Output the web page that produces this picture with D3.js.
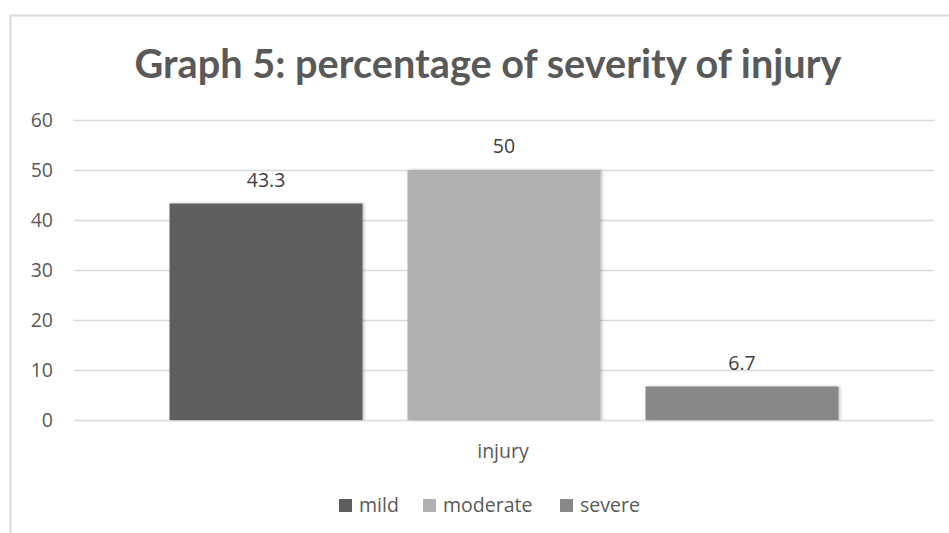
<!DOCTYPE html>
<html><head><meta charset="utf-8">
<script src="https://cdn.jsdelivr.net/npm/d3@7"></script>
<style>body{margin:0;background:#fff}svg{display:block}text{font-family:"Open Sans",sans-serif}</style>
</head><body>
<svg id="c" width="949" height="533"></svg>
<script>
const title = "Graph 5: percentage of severity of injury";
const categories = ["injury"];
const seriesNames = ["mild", "moderate", "severe"];
const seriesValues = [43.3, 50, 6.7];
const seriesColors = ["#5f5f5f", "#b0b0b0", "#888888"];
const yTicks = [0, 10, 20, 30, 40, 50, 60];

const svg = d3.select("#c");
const FS = "19.5px";
// frame (top & left border visible)
svg.append("path").attr("d", "M10.5,540 L10.5,15.5 L960,15.5").attr("fill","none").attr("stroke","#d9d9d9").attr("stroke-width",2);

const plot = {left: 74, right: 934, top: 120, bottom: 420};
const y = d3.scaleLinear().domain([0, 60]).range([plot.bottom, plot.top]);
const x0 = d3.scaleBand().domain(categories).range([plot.left, plot.right]).paddingInner(0).paddingOuter(0.1428);
const x1 = d3.scaleBand().domain(seriesNames).range([0, x0.bandwidth()]).paddingInner(0.189);

const defs = svg.append("defs");
const f = defs.append("filter").attr("id","sh").attr("x","-10%").attr("y","-10%").attr("width","130%").attr("height","130%");
f.append("feDropShadow").attr("dx",1.5).attr("dy",0).attr("stdDeviation",1.5).attr("flood-color","#000").attr("flood-opacity",0.25);

// gridlines
const yAxis = d3.axisLeft(y).tickValues(yTicks).tickSize(-(plot.right-plot.left)).tickPadding(21);
const ga = svg.append("g").attr("transform",`translate(${plot.left},0)`).call(yAxis);
ga.select(".domain").remove();
ga.selectAll(".tick line").attr("stroke","#d9d9d9").attr("stroke-width",1.5);
ga.selectAll(".tick text").attr("fill","#595959").style("font-size",FS).style("font-family","Open Sans");

// bars
const g = svg.append("g");
categories.forEach(cat => {
  seriesNames.forEach((s, i) => {
    const v = seriesValues[i];
    g.append("rect").attr("x", x0(cat) + x1(s)).attr("y", y(v))
      .attr("width", x1.bandwidth()).attr("height", y(0) - y(v))
      .attr("fill", seriesColors[i]).attr("filter","url(#sh)");
    g.append("text").attr("x", x0(cat) + x1(s) + x1.bandwidth()/2).attr("y", y(v) - 17)
      .attr("text-anchor","middle").attr("fill","#404040").style("font-size",FS).text(v);
  });
  svg.append("text").attr("x", x0(cat) + x0.bandwidth()/2 - 1).attr("y", 458)
    .attr("text-anchor","middle").attr("fill","#595959").style("font-size",FS).text(cat);
});

// title
const t = svg.append("text").attr("x", 488).attr("y", 78).attr("text-anchor","middle")
  .attr("fill","#595959").style("font-size","40px").style("font-weight","bold").style("font-family","Lato,'Open Sans',sans-serif").text(title);
const tw = t.node().getComputedTextLength();
t.style("font-size", (40 * 707 / tw) + "px");

// legend
const legX = [339, 423, 560];
const lg = svg.append("g");
seriesNames.forEach((s, i) => {
  lg.append("rect").attr("x", legX[i]).attr("y", 499).attr("width", 13).attr("height", 13).attr("fill", seriesColors[i]);
  lg.append("text").attr("x", legX[i] + 20).attr("y", 512).attr("fill","#595959").style("font-size",FS).text(s);
});
</script>
</body></html>
